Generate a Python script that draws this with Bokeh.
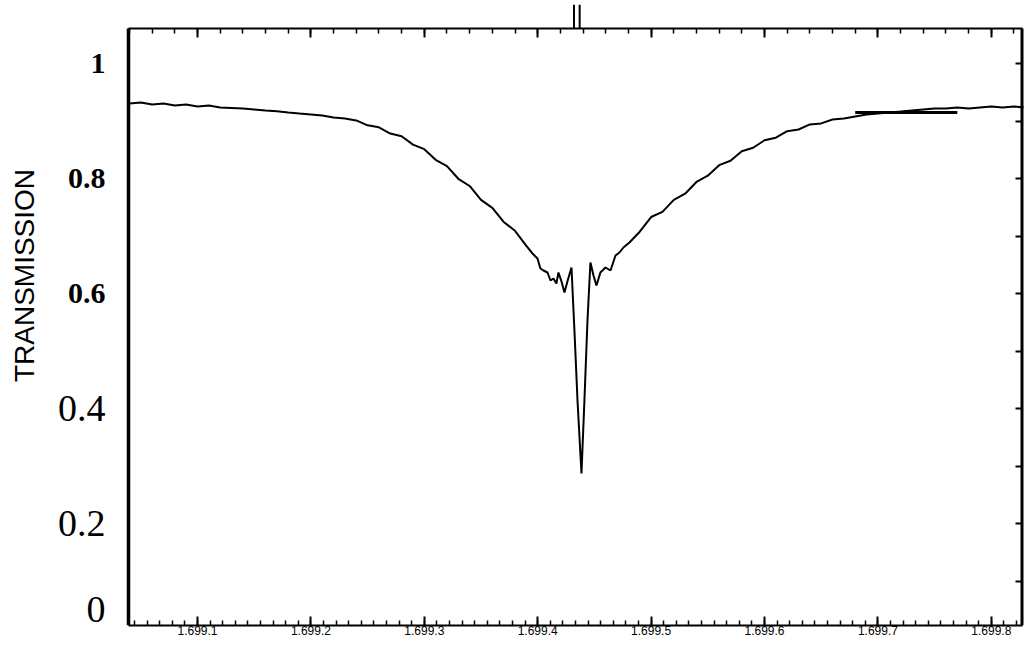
import math
from bokeh.plotting import figure
from bokeh.models import (Range1d, LinearAxis, FixedTicker, CustomJSTickFormatter)
from bokeh.core.properties import value
from bokeh.embed import file_html
from bokeh.resources import INLINE

# ---------------- data ----------------
wavelength = [
    1.69904, 1.69905, 1.69906, 1.69907, 1.69908, 1.69909, 1.69910, 1.69911,
    1.69912, 1.69913, 1.69914, 1.69915, 1.69916, 1.69917, 1.69918, 1.69919,
    1.69920, 1.69921, 1.69922, 1.69923, 1.69924, 1.69925, 1.69926, 1.69927,
    1.69928, 1.69929, 1.69930, 1.69931, 1.69932, 1.69933, 1.69934, 1.69935,
    1.69936, 1.69937, 1.69938, 1.69939,
    1.6993954, 1.6993998, 1.6994024, 1.6994051, 1.6994086, 1.6994113,
    1.6994139, 1.6994165, 1.6994183, 1.6994210, 1.6994236, 1.6994262,
    1.6994298, 1.6994324, 1.6994351, 1.6994386, 1.6994412, 1.6994439,
    1.6994465, 1.6994492, 1.6994518, 1.6994553, 1.6994598, 1.6994642,
    1.6994686, 1.6994721, 1.6994756, 1.6994809,
    1.69949, 1.69950, 1.69951, 1.69952, 1.69953, 1.69954, 1.69955, 1.69956,
    1.69957, 1.69958, 1.69959, 1.69960, 1.69961, 1.69962, 1.69963, 1.69964,
    1.69965, 1.69966, 1.69967, 1.69968, 1.69969, 1.69970, 1.69971, 1.69972,
    1.69973, 1.69974, 1.69975, 1.69976, 1.69977, 1.69978, 1.69979, 1.69980,
    1.69981, 1.69982, 1.69983,
]
transmission = [
    0.9304, 0.9322, 0.9287, 0.9304, 0.9270, 0.9287, 0.9252, 0.9270,
    0.9235, 0.9226, 0.9217, 0.9200, 0.9183, 0.9170, 0.9148, 0.9130,
    0.9113, 0.9096, 0.9061, 0.9043, 0.9010, 0.8925, 0.8890, 0.8782,
    0.8735, 0.8590, 0.8510, 0.8325, 0.8215, 0.7995, 0.7870, 0.7628,
    0.7490, 0.7245, 0.7090, 0.6830,
    0.6696, 0.6609, 0.6435, 0.6400, 0.6365, 0.6226,
    0.6261, 0.6174, 0.6365, 0.6209, 0.6017, 0.6209,
    0.6452, 0.5357, 0.4139, 0.2870, 0.4139, 0.5530,
    0.6539, 0.6313, 0.6139, 0.6365, 0.6452, 0.6400,
    0.6661, 0.6713, 0.6800, 0.6887,
    0.7075, 0.7330, 0.7420, 0.7628, 0.7735, 0.7940, 0.8048, 0.8232,
    0.8308, 0.8475, 0.8535, 0.8665, 0.8710, 0.8822, 0.8852, 0.8940,
    0.8958, 0.9025, 0.9043, 0.9078, 0.9113, 0.9130, 0.9148, 0.9165,
    0.9183, 0.9200, 0.9217, 0.9217, 0.9235, 0.9217, 0.9235, 0.9252,
    0.9235, 0.9252, 0.9235,
]
baseline_x = [1.69968, 1.69977]
baseline_y = [0.915, 0.915]
marker_x = [1.699432, 1.699437]

x_ticks = [1.6991, 1.6992, 1.6993, 1.6994, 1.6995, 1.6996, 1.6997, 1.6998]
x_tick_labels = ["1.699.1", "1.699.2", "1.699.3", "1.699.4",
                 "1.699.5", "1.699.6", "1.699.7", "1.699.8"]
y_ticks = [1.0, 0.8, 0.6, 0.4, 0.2, 0.0]
y_tick_labels = ["1", "0.8", "0.6", "0.4", "0.2", "0"]
y_tick_bold = [True, True, True, False, False, False]
right_ticks = [0.1, 0.2, 0.3, 0.4, 0.5, 0.6, 0.7, 0.8, 0.9, 1.0]
y_title = "TRANSMISSION"

# ---------------- layout (pixel geometry of the frame) ----------------
W, H = 1026, 639
FL, FR, FT, FB = 4, 1023, 4, 625          # frame edges in canvas pixels
PPX = (x_ticks[1] - x_ticks[0]) / 113.4   # data per pixel along x
PPY = 0.2 / 115.0                          # data per pixel along y


def xpix(px):
    return x_ticks[0] + (px - 197) * PPX


def ypix(py):
    return (638 - py) * PPY


XA, XB = xpix(FL), xpix(FR)
YA, YB = ypix(FB), ypix(FT)
X0, X1 = xpix(128), xpix(1022)   # left / right axis lines
Y1 = ypix(28)                     # top axis line

p = figure(width=W, height=H, output_backend="svg", toolbar_location=None,
           x_range=Range1d(XA, XB), y_range=Range1d(YA, YB),
           min_border_left=FL, min_border_right=W - FR, min_border_top=FT,
           min_border_bottom=H - FB)
p.outline_line_color = None
p.grid.visible = False
p.background_fill_color = "white"
p.border_fill_color = "white"

blank = CustomJSTickFormatter(code="return ''")
step = x_ticks[1] - x_ticks[0]


def minors(n):
    vals = [x_ticks[0] - step + i * step / n for i in range(0, 10 * n)]
    return [v for v in vals if X0 + 1e-9 < v < X1 - 1e-9]


# bottom axis (carries the labels)
xb = p.xaxis[0]
xb.bounds = (X0, X1)
xb.ticker = FixedTicker(ticks=x_ticks, minor_ticks=minors(9))
xb.major_label_overrides = {t: l for t, l in zip(x_ticks, x_tick_labels)}
xb.axis_line_width = 2
xb.axis_line_color = "black"
xb.major_tick_in = 9
xb.major_tick_out = 0
xb.minor_tick_in = 5
xb.minor_tick_out = 0
xb.major_tick_line_width = 2
xb.minor_tick_line_width = 1.5
xb.major_label_standoff = 0
xb.major_label_text_font = "Liberation Sans"
xb.major_label_text_font_size = "12px"
xb.major_label_text_color = "black"

# left axis: a thick line only
yl = p.yaxis[0]
yl.fixed_location = X0
yl.bounds = (YA, Y1)
yl.ticker = FixedTicker(ticks=[])
yl.axis_line_width = 3.5
yl.axis_line_color = "black"
yl.major_tick_in = 0
yl.major_tick_out = 0
yl.minor_tick_in = 0
yl.minor_tick_out = 0
yl.major_label_standoff = 0

# top axis
xt = LinearAxis(fixed_location=Y1, bounds=(X0, X1), formatter=blank,
                ticker=FixedTicker(ticks=x_ticks, minor_ticks=minors(5)))
xt.axis_line_width = 2
xt.major_tick_in = 9
xt.major_tick_out = 0
xt.minor_tick_in = 5
xt.minor_tick_out = 0
xt.major_tick_line_width = 2
xt.minor_tick_line_width = 1.5
xt.major_label_standoff = 0
xt.major_label_text_font_size = "1px"
p.add_layout(xt, "above")

# right axis
yr = LinearAxis(fixed_location=X1, bounds=(YA, Y1), formatter=blank,
                ticker=FixedTicker(ticks=right_ticks, minor_ticks=[]))
yr.axis_line_width = 4
yr.major_tick_in = 7
yr.major_tick_out = 0
yr.major_tick_line_width = 2
yr.minor_tick_in = 0
yr.minor_tick_out = 0
yr.major_label_standoff = 0
yr.major_label_text_font_size = "1px"
p.add_layout(yr, "right")

# curve and continuum marker
p.line(wavelength, transmission, line_color="black", line_width=2)
p.line(baseline_x, baseline_y, line_color="black", line_width=3)

# line-centre marker above the top axis
p.segment(x0=marker_x, y0=[Y1] * len(marker_x), x1=marker_x, y1=[YB] * len(marker_x),
          line_color="black", line_width=2)

# y tick labels (bold for the upper three, as in the original)
lab_x = xpix(105)
label_y = [max(v, ypix(609)) for v in y_ticks]
bold_i = [i for i, b in enumerate(y_tick_bold) if b]
reg_i = [i for i, b in enumerate(y_tick_bold) if not b]
p.text(x=[lab_x] * len(bold_i), y=[label_y[i] for i in bold_i],
       text=[y_tick_labels[i] for i in bold_i],
       text_align="right", text_baseline="middle",
       text_font=value("Liberation Serif"), text_font_style="bold",
       text_font_size="30px", text_color="black")
p.text(x=[lab_x] * len(reg_i), y=[label_y[i] for i in reg_i],
       text=[y_tick_labels[i] for i in reg_i],
       text_align="right", text_baseline="middle",
       text_font=value("Liberation Serif"),
       text_font_size="38px", text_color="black")

# axis title
p.text(x=[xpix(24)], y=[ypix(275)], text=[y_title], angle=math.pi / 2,
       text_align="center", text_baseline="middle",
       text_font=value("Liberation Sans"), text_font_size="28px", text_color="black")

open("out.html", "w").write(file_html(p, INLINE))
